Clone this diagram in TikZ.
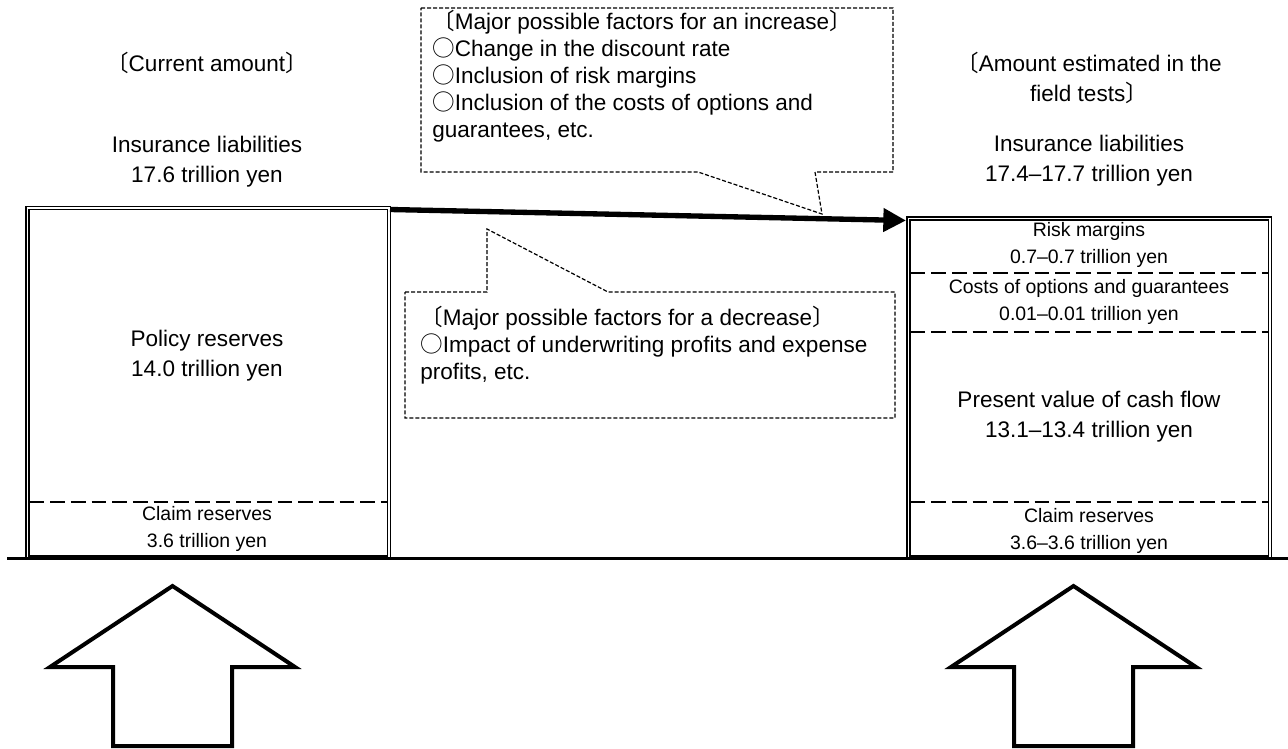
\documentclass[tikz,border=0pt]{standalone}
\usepackage{fontspec}
\setmainfont{Liberation Sans}
\newfontfamily\jpfont{Noto Sans CJK JP}
\usetikzlibrary{arrows.meta}
\newcommand{\lbk}{{\jpfont 〔}}
\newcommand{\rbk}{{\jpfont 〕}}
\newcommand{\wcirc}{{\jpfont ○}}
\tikzset{%
    dblbox/.style={draw, line width=0.9pt, double=white, double distance=1.4pt},
    divider/.style={line width=2.1pt, dash pattern=on 11pt off 4.5pt},
    callout/.style={line width=0.9pt, dash pattern=on 3pt off 1.5pt, fill=white},
    bigtext/.style={font=\fontsize{16.9}{22.5}\selectfont, align=center, inner sep=0pt},
    smalltext/.style={font=\fontsize{14.6}{20}\selectfont, align=center, inner sep=0pt},
    notetext/.style={font=\fontsize{16.9}{20.3}\selectfont, align=left, anchor=north west, inner sep=0pt},
    hollowarrow/.style={draw, line width=3pt, fill=white, line join=miter}
}
\begin{document}
\begin{tikzpicture}[x=0.75pt, y=-0.75pt]
    \useasboundingbox (0,0) rectangle (1288,749);
    \draw[dblbox] (27.5,208) rectangle (389,557.5);
    \draw[dblbox] (908.5,218.5) rectangle (1270,557.5);
    \draw[line width=2.7pt] (7,558.5) -- (1288,558.5);
    \draw[divider] (29.5,502) -- (387,502);
    \foreach \y in {273,332,502}
    {
    \draw[divider] (910.5,\y) -- (1268,\y);
    }
    \coordinate (arrowstart) at (390,209.5);
    \coordinate (arrowend) at (906,220.5);
    \draw[line width=4pt, -{Triangle[length=17pt, width=17pt]}] (arrowstart) -- (arrowend);
    \draw[callout] (421,8) -- (893,8) -- (893,172) -- (815,172) -- (822,214) -- (698,172) -- (421,172) -- cycle;
    \draw[callout] (405,292) -- (487,292) -- (487,229) -- (608,292) -- (895,292) -- (895,418) -- (405,418) -- cycle;
    \foreach \cx in {172.5,1073.5}
    {
    \draw[hollowarrow] (\cx,586) -- ++(122.5,81) -- ++(-63,0) -- ++(0,79) -- ++(-119,0) -- ++(0,-79) -- ++(-63,0) -- cycle;
    }
    \node[bigtext] (curlabel) at (207,63) {\lbk Current amount\rbk};
    \node[bigtext] (curtotal) at (207,161.5) {Insurance liabilities\\17.6 trillion yen};
    \node[bigtext] (estlabel) at (1089,77.5) {\lbk Amount estimated in the\\field tests\rbk};
    \node[bigtext] (esttotal) at (1089,161) {Insurance liabilities\\17.4–17.7 trillion yen};
    \node[bigtext] (policy) at (207,356) {Policy reserves\\14.0 trillion yen};
    \node[smalltext] (claimleft) at (207,529) {Claim reserves\\3.6 trillion yen};
    \node[smalltext] (riskmargin) at (1089,245) {Risk margins\\0.7–0.7 trillion yen};
    \node[smalltext] (options) at (1089,302) {Costs of options and guarantees\\0.01–0.01 trillion yen};
    \node[bigtext] (cashflow) at (1089,417) {Present value of cash flow\\13.1–13.4 trillion yen};
    \node[smalltext] (claimright) at (1089,531) {Claim reserves\\3.6–3.6 trillion yen};
    \node[notetext] (increase) at (432,10) {\lbk Major possible factors for an increase\rbk\\\wcirc Change in the discount rate\\\wcirc Inclusion of risk margins\\\wcirc Inclusion of the costs of options and\\guarantees, etc.};
    \node[notetext] (decrease) at (420,306) {\lbk Major possible factors for a decrease\rbk\\\wcirc Impact of underwriting profits and expense\\profits, etc.};
\end{tikzpicture}
\end{document}
